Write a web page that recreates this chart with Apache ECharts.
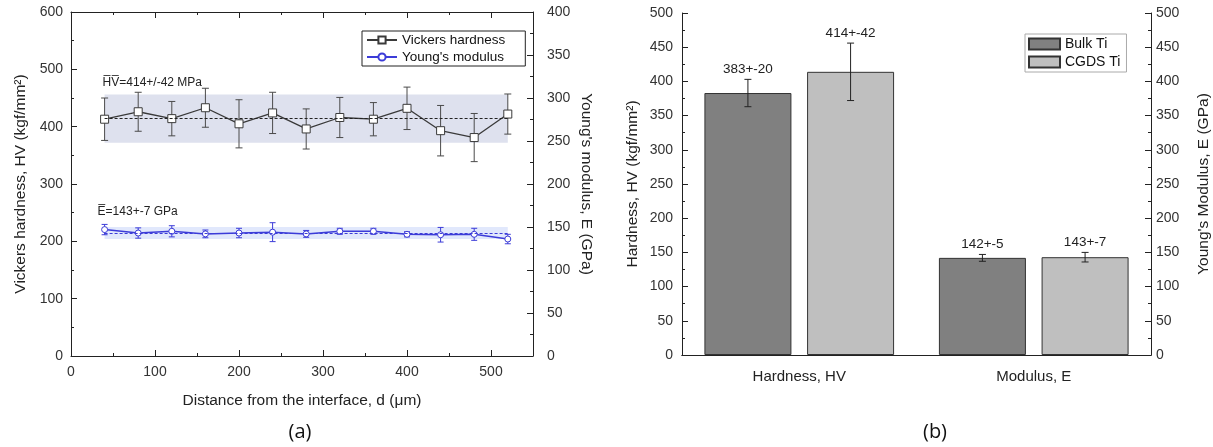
<!DOCTYPE html>
<html>
<head>
<meta charset="utf-8">
<script src="https://cdn.jsdelivr.net/npm/echarts@6/dist/echarts.min.js"></script>
<style>
  html, body { margin: 0; padding: 0; background: #fff; }
  #chart { width: 1213px; height: 447px; }
</style>
</head>
<body>
<div id="chart"></div>
<script>
// (a) indentation profile across the coating/substrate interface
const distance = [40, 80, 120, 160, 200, 240, 280, 320, 360, 400, 440, 480, 520];
const hvMean = [413, 426, 414, 433, 405, 424, 396, 416, 413, 432, 393, 381, 422];
const hvErr  = [37, 34, 30, 34, 42, 36, 35, 35, 29, 37, 44, 42, 35];
const eMean  = [147, 143, 145, 142, 143, 144, 142, 145, 145, 141.5, 141, 141.5, 136];
const eErr   = [6, 6, 6.5, 4.5, 5.5, 11, 4, 3.5, 3.5, 3, 8.5, 7, 5.5];
const hvSummary = [414, 42];   // mean, spread (MPa)
const eSummary  = [143, 7];    // mean, spread (GPa)

// (b) bulk vs. cold-gas-dynamic-sprayed titanium
const groups  = ['Hardness, HV', 'Modulus, E'];
const bulkTi  = [383, 142];
const bulkErr = [20, 5];
const cgdsTi  = [414, 143];
const cgdsErr = [42, 7];

const HV_COLOR = '#3a3a3a';
const E_COLOR = '#3c3cd8';
const AXIS = '#222';
const LABEL = '#333';
const FONT = 'Liberation Sans, Arial, sans-serif';

const chart = echarts.init(document.getElementById('chart'), null, { renderer: 'canvas' });

function errorSeries(name, xs, means, errs, color, cap, xAxisIndex, yAxisIndex, z) {
  return {
    type: 'custom', name: name, xAxisIndex, yAxisIndex, z: z, silent: true,
    data: xs.map((x, i) => [x, means[i] - errs[i], means[i] + errs[i]]),
    encode: { x: 0, y: [1, 2] },
    renderItem(params, api) {
      const lo = api.coord([api.value(0), api.value(1)]);
      const hi = api.coord([api.value(0), api.value(2)]);
      const st = { stroke: color, lineWidth: 1 };
      return { type: 'group', children: [
        { type: 'line', shape: { x1: lo[0], y1: lo[1], x2: hi[0], y2: hi[1] }, style: st },
        { type: 'line', shape: { x1: lo[0] - cap, y1: lo[1], x2: lo[0] + cap, y2: lo[1] }, style: st },
        { type: 'line', shape: { x1: hi[0] - cap, y1: hi[1], x2: hi[0] + cap, y2: hi[1] }, style: st }
      ]};
    }
  };
}

// bar error bars with the "mean+-err" label on top
const BAR_W = 87, BAR_GAP = 0.18;
function barErrorSeries(means, errs, side) {
  return {
    type: 'custom', xAxisIndex: 2, yAxisIndex: 2, z: 5, silent: true,
    data: means.map((m, i) => [i, m - errs[i], m + errs[i], m, errs[i]]),
    encode: { x: 0, y: [1, 2] },
    renderItem(params, api) {
      const dx = side * (BAR_W * (1 + BAR_GAP)) / 2;
      const lo = api.coord([api.value(0), api.value(1)]);
      const hi = api.coord([api.value(0), api.value(2)]);
      const x = lo[0] + dx, cap = 3.5;
      const st = { stroke: '#222', lineWidth: 1 };
      return { type: 'group', children: [
        { type: 'line', shape: { x1: x, y1: lo[1], x2: x, y2: hi[1] }, style: st },
        { type: 'line', shape: { x1: x - cap, y1: lo[1], x2: x + cap, y2: lo[1] }, style: st },
        { type: 'line', shape: { x1: x - cap, y1: hi[1], x2: x + cap, y2: hi[1] }, style: st },
        { type: 'text', x: x, y: hi[1] - 3,
          style: { text: api.value(3) + '+-' + api.value(4), fill: '#222',
                   font: '13.5px ' + FONT, textAlign: 'center', textVerticalAlign: 'bottom' } }
      ]};
    }
  };
}

function valueAxis(extra) {
  return Object.assign({
    type: 'value',
    axisLine: { show: true, onZero: false, lineStyle: { color: AXIS, width: 1 } },
    axisTick: { show: true, inside: true, length: 6, lineStyle: { color: AXIS } },
    minorTick: { show: true, splitNumber: 2, length: 3, lineStyle: { color: AXIS } },
    splitLine: { show: false },
    axisLabel: { color: LABEL, fontSize: 14, fontFamily: FONT },
    nameTextStyle: { color: '#222', fontSize: 15.5, fontFamily: FONT }
  }, extra);
}

const first = distance[0], last = distance[distance.length - 1];

const option = {
  animation: false,
  backgroundColor: '#fff',
  grid: [
    { left: 71, right: 680, top: 12, bottom: 91 },
    { left: 682, right: 61, top: 13, bottom: 92 }
  ],
  xAxis: [
    valueAxis({ gridIndex: 0, min: 0, max: 550, interval: 100, position: 'bottom',
      axisLabel: { color: LABEL, fontSize: 14, fontFamily: FONT, margin: 9,
                   formatter: v => (v > 500 ? '' : v) },
      name: 'Distance from the interface, d (\u03bcm)', nameLocation: 'middle', nameGap: 37 }),
    valueAxis({ gridIndex: 0, min: 0, max: 550, interval: 100, position: 'top',
      axisLabel: { show: false } }),
    { type: 'category', gridIndex: 1, data: groups, position: 'bottom',
      axisLine: { lineStyle: { color: AXIS } }, axisTick: { show: false },
      axisLabel: { color: '#222', fontSize: 15, fontFamily: FONT, margin: 14 } },
    { type: 'category', gridIndex: 1, data: groups, position: 'top',
      axisLine: { lineStyle: { color: AXIS } }, axisTick: { show: false }, axisLabel: { show: false } }
  ],
  yAxis: [
    valueAxis({ gridIndex: 0, min: 0, max: 600, interval: 100, position: 'left',
      axisLabel: { color: LABEL, fontSize: 14, fontFamily: FONT, margin: 8 },
      name: 'Vickers hardness, HV (kgf/mm\u00b2)', nameLocation: 'middle', nameGap: 42, nameRotate: 90 }),
    valueAxis({ gridIndex: 0, min: 0, max: 400, interval: 50, position: 'right',
      axisLabel: { color: LABEL, fontSize: 14, fontFamily: FONT, margin: 14 },
      name: "Young's modulus, E (GPa)", nameLocation: 'middle', nameGap: 45, nameRotate: -90 }),
    valueAxis({ gridIndex: 1, min: 0, max: 500, interval: 50, position: 'left',
      axisLabel: { color: LABEL, fontSize: 14, fontFamily: FONT, margin: 9 },
      name: 'Hardness, HV (kgf/mm\u00b2)', nameLocation: 'middle', nameGap: 41, nameRotate: 90 }),
    valueAxis({ gridIndex: 1, min: 0, max: 500, interval: 50, position: 'right',
      axisLabel: { color: LABEL, fontSize: 14, fontFamily: FONT, margin: 5 },
      name: "Young's Modulus, E (GPa)", nameLocation: 'middle', nameGap: 45, nameRotate: 90 })
  ],
  legend: [
    { data: ['Vickers hardness', "Young's modulus"], orient: 'vertical', left: 362, top: 31,
      borderColor: '#222', borderWidth: 1, borderRadius: 0, backgroundColor: '#fff',
      padding: [2, 20, 2, 4], itemGap: 3, itemWidth: 30, itemHeight: 9,
      textStyle: { color: '#111', fontSize: 13.5, fontFamily: FONT } },
    { data: ['Bulk Ti', 'CGDS Ti'], orient: 'vertical', left: 1025, top: 34,
      borderColor: '#aaa', borderWidth: 1, borderRadius: 0, backgroundColor: '#fff',
      padding: [3, 6, 3, 3], itemGap: 4, itemWidth: 31, itemHeight: 11, icon: 'rect',
      textStyle: { color: '#111', fontSize: 14, fontFamily: FONT } }
  ],
  series: [
    errorSeries('hv-err', distance, hvMean, hvErr, '#4a4a4a', 3.5, 0, 0, 2),
    errorSeries('e-err', distance, eMean, eErr, E_COLOR, 3, 0, 1, 2),
    {
      name: 'Vickers hardness', type: 'line', xAxisIndex: 0, yAxisIndex: 0, z: 3,
      data: distance.map((d, i) => [d, hvMean[i]]),
      symbol: 'rect', symbolSize: 8, showAllSymbol: true,
      lineStyle: { color: HV_COLOR, width: 1.3 },
      itemStyle: { color: '#fff', borderColor: HV_COLOR, borderWidth: 1 },
      markArea: {
        silent: true,
        itemStyle: { color: 'rgba(190,195,222,0.5)' },
        label: { show: true, position: 'insideTopLeft', distance: 0, offset: [-2, -18],
                 color: '#222', fontSize: 12, fontFamily: FONT,
                 formatter: 'H\u0305V\u0305=' + hvSummary[0] + '+/-' + hvSummary[1] + ' MPa' },
        data: [[{ coord: [first, hvSummary[0] - hvSummary[1]] },
                { coord: [last, hvSummary[0] + hvSummary[1]] }]]
      },
      markLine: {
        silent: true, symbol: 'none', label: { show: false },
        lineStyle: { color: '#222', type: [3, 2], width: 1 },
        data: [[{ coord: [first, hvSummary[0]] }, { coord: [last, hvSummary[0]] }]]
      }
    },
    {
      name: "Young's modulus", type: 'line', xAxisIndex: 0, yAxisIndex: 1, z: 3,
      data: distance.map((d, i) => [d, eMean[i]]),
      symbol: 'circle', symbolSize: 6, showAllSymbol: true,
      lineStyle: { color: E_COLOR, width: 1.5 },
      itemStyle: { color: '#fff', borderColor: E_COLOR, borderWidth: 1 },
      markArea: {
        silent: true,
        itemStyle: { color: 'rgba(170,188,245,0.35)' },
        label: { show: true, position: 'insideTopLeft', distance: 0, offset: [-7, -21],
                 color: '#222', fontSize: 12, fontFamily: FONT,
                 formatter: 'E\u0305=' + eSummary[0] + '+-' + eSummary[1] + ' GPa' },
        data: [[{ coord: [first, eSummary[0] - eSummary[1]] },
                { coord: [last, eSummary[0] + eSummary[1]] }]]
      },
      markLine: {
        silent: true, symbol: 'none', label: { show: false },
        lineStyle: { color: E_COLOR, type: [3, 2], width: 1 },
        data: [[{ coord: [first, eSummary[0]] }, { coord: [last, eSummary[0]] }]]
      }
    },
    {
      name: 'Bulk Ti', type: 'bar', xAxisIndex: 2, yAxisIndex: 2, data: bulkTi,
      barWidth: BAR_W, barGap: (BAR_GAP * 100) + '%',
      itemStyle: { color: '#808080', borderColor: '#333', borderWidth: 1 }
    },
    {
      name: 'CGDS Ti', type: 'bar', xAxisIndex: 2, yAxisIndex: 2, data: cgdsTi,
      barWidth: BAR_W, barGap: (BAR_GAP * 100) + '%',
      itemStyle: { color: '#bfbfbf', borderColor: '#333', borderWidth: 1 }
    },
    barErrorSeries(bulkTi, bulkErr, -1),
    barErrorSeries(cgdsTi, cgdsErr, 1)
  ],
  graphic: [
    { type: 'text', x: 300, y: 432, style: { text: '(a)', fill: '#111', font: '20px "Open Sans", sans-serif',
      textAlign: 'center', textVerticalAlign: 'middle' } },
    { type: 'text', x: 935, y: 432, style: { text: '(b)', fill: '#111', font: '20px "Open Sans", sans-serif',
      textAlign: 'center', textVerticalAlign: 'middle' } }
  ]
};

chart.setOption(option);
</script>
</body>
</html>
